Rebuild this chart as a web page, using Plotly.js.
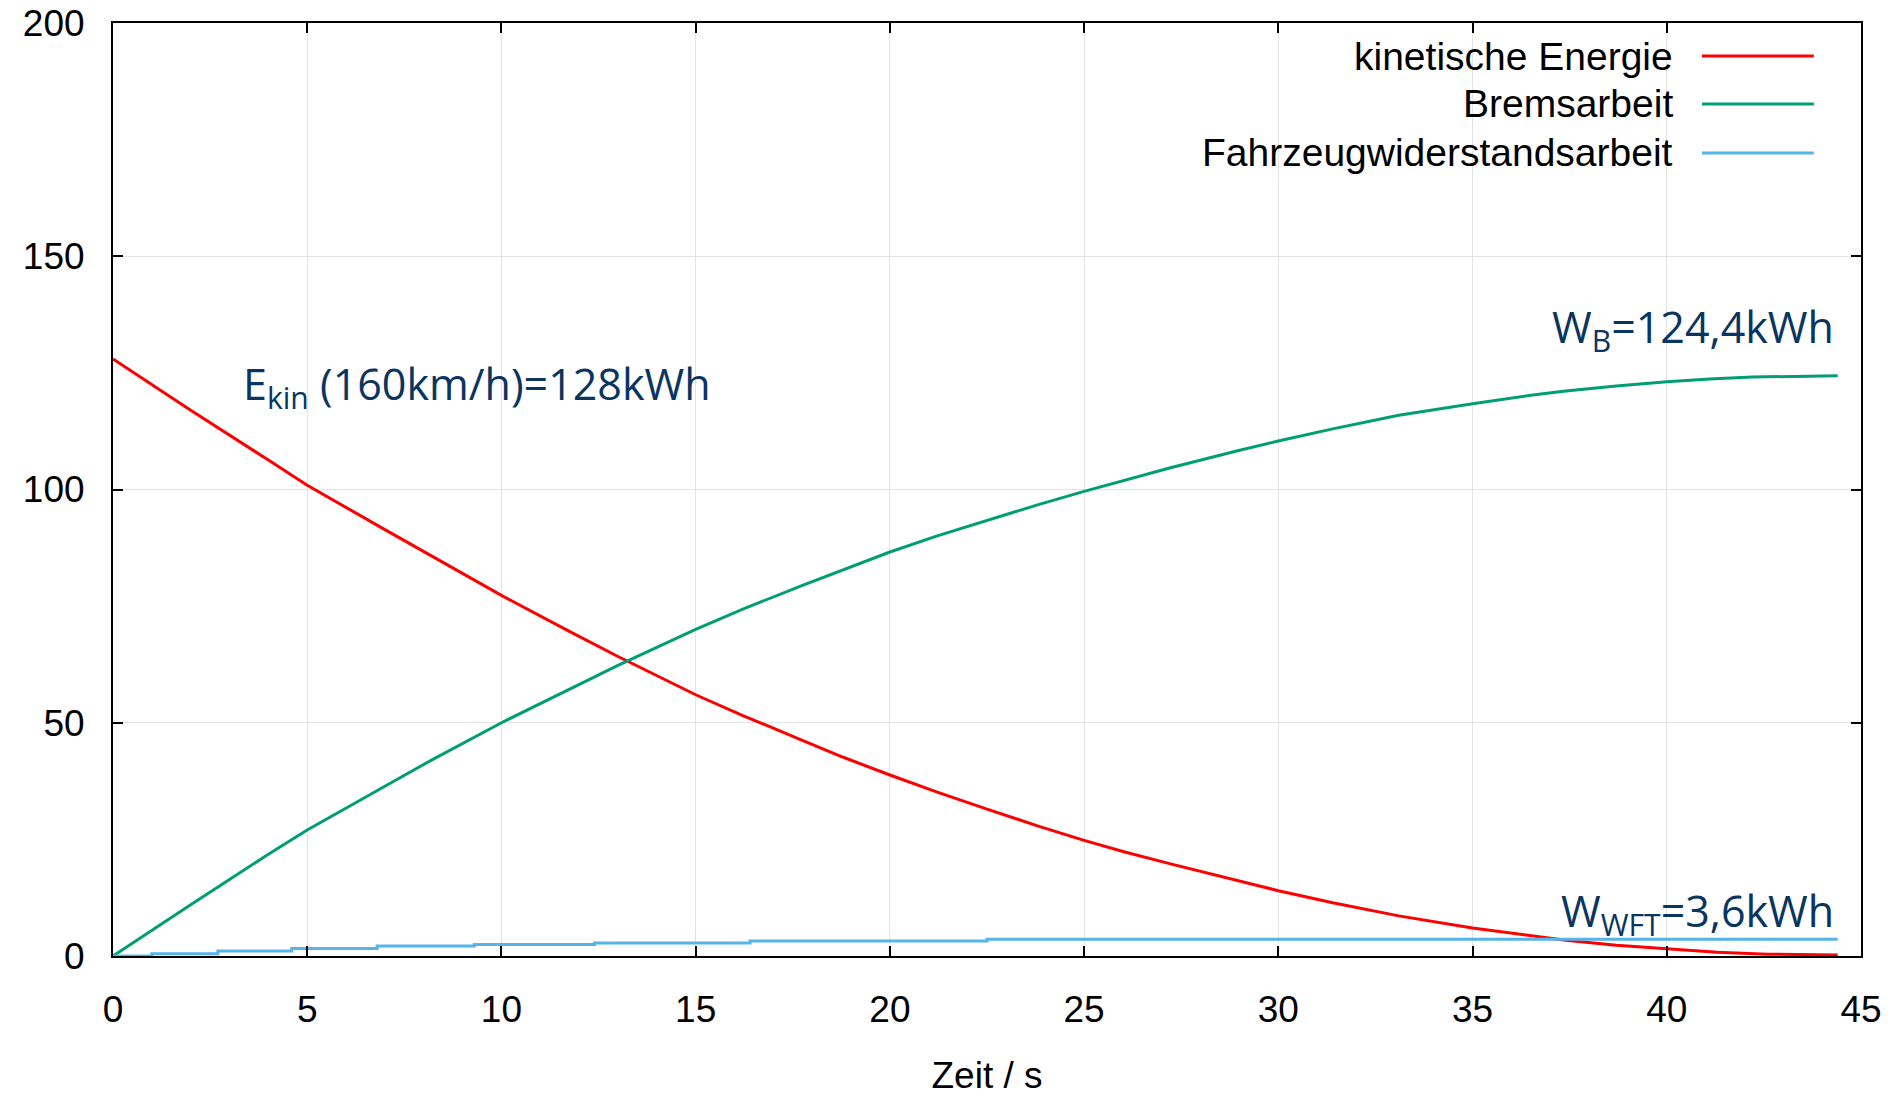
<!DOCTYPE html>
<html>
<head>
<meta charset="utf-8">
<script src="https://cdn.plot.ly/plotly-3.0.1.min.js"></script>
<style>html,body{margin:0;padding:0;background:#fff;}#chart{width:1903px;height:1096px;}</style>
</head>
<body>
<div id="chart"></div>
<script>
// ---- data ----
const seriesNames = ["kinetische Energie", "Bremsarbeit", "Fahrzeugwiderstandsarbeit"];
const seriesColors = ["#ff0000", "#009e73", "#56b4e9"];

const tKin = [0, 2, 4, 5, 7, 8.2, 10, 11.7, 13, 15, 16.2, 17.7, 18.8, 20, 21.2, 22.5, 23.8, 25, 26, 27.2, 28.9, 30, 31.4, 33.1, 35, 36.5, 37.4, 38.7, 40, 41.3, 42.6, 44.4];
const eKin = [128, 117.0, 106.3, 100.9, 91.4, 85.7, 77.3, 69.8, 64.2, 56.0, 51.6, 46.4, 42.6, 38.8, 35.2, 31.5, 27.9, 24.8, 22.4, 19.8, 16.2, 14.0, 11.4, 8.6, 6.0, 4.3, 3.4, 2.3, 1.5, 0.8, 0.4, 0.2];

const tBrems = [0, 2, 4, 5, 7, 8.2, 10, 11.7, 13, 15, 16.2, 17.7, 18.8, 20, 21.2, 22.5, 23.8, 25, 26, 27.2, 28.9, 30, 31.4, 33.1, 35, 36.5, 37.4, 38.7, 40, 41.1, 42.2, 44.4];
const wBrems = [0, 11.0, 21.8, 27.0, 36.4, 42.0, 50.0, 57.0, 62.3, 70.0, 74.3, 79.3, 82.8, 86.6, 90.0, 93.4, 96.7, 99.6, 101.9, 104.6, 108.2, 110.4, 113.0, 115.9, 118.4, 120.2, 121.1, 122.2, 123.1, 123.7, 124.1, 124.4];

const tWft = [0, 1.0, 2.7, 4.6, 6.8, 9.3, 12.4, 16.4, 22.5, 44.4];
const wWft = [0, 0.49, 1.06, 1.63, 2.12, 2.45, 2.78, 3.19, 3.6, 3.6];

const xTicks = [0, 5, 10, 15, 20, 25, 30, 35, 40, 45];
const yTicks = [0, 50, 100, 150, 200];

const labelTexts = ["E<sub>kin</sub> (160km/h)=128kWh", "W<sub>B</sub>=124,4kWh", "W<sub>WFT</sub>=3,6kWh"];
const xTitle = "Zeit / s";

// ---- chart ----
const tickFont = {family: "Liberation Sans, Arial, sans-serif", size: 37, color: "#000"};
const legendFont = {family: "Liberation Sans, Arial, sans-serif", size: 39, color: "#000"};
const annFont = {family: "Open Sans, sans-serif", size: 43, color: "#0b3561"};

const traces = [
  {x: tKin, y: eKin, mode: "lines", name: seriesNames[0], line: {color: seriesColors[0], width: 3}},
  {x: tBrems, y: wBrems, mode: "lines", name: seriesNames[1], line: {color: seriesColors[1], width: 3}},
  {x: tWft, y: wWft, mode: "lines", name: seriesNames[2], line: {color: seriesColors[2], width: 3, shape: "hv"}}
];

const axisCommon = {
  showline: true, linecolor: "#000", linewidth: 2, mirror: "ticks",
  ticks: "inside", ticklen: 10, tickwidth: 2, tickcolor: "#000",
  showgrid: true, gridcolor: "#e4e4e4", gridwidth: 1, zeroline: false,
  tickfont: tickFont, fixedrange: true
};

const legendY = [0.9646, 0.9132, 0.8607];
const shapes = [
  {type: "rect", xref: "paper", yref: "paper", x0: 0.6, x1: 0.998, y0: 0.835, y1: 0.998,
   fillcolor: "#ffffff", line: {width: 0}, layer: "between"}
];
const annotations = [];
seriesNames.forEach((n, i) => {
  shapes.push({type: "line", xref: "paper", yref: "paper", x0: 0.909, x1: 0.973, y0: legendY[i], y1: legendY[i],
               line: {color: seriesColors[i], width: 3}});
  annotations.push({xref: "paper", yref: "paper", x: 0.8936, y: legendY[i], xanchor: "right", yanchor: "middle",
                    text: n, showarrow: false, font: legendFont});
});
annotations.push({xref: "x", yref: "y", x: 3.3, y: 122.1, xanchor: "left", yanchor: "middle",
                  text: labelTexts[0], showarrow: false, font: annFont});
annotations.push({xref: "x", yref: "y", x: 44.35, y: 134.4, xanchor: "right", yanchor: "middle",
                  text: labelTexts[1], showarrow: false, font: annFont});
annotations.push({xref: "x", yref: "y", x: 44.35, y: 9.3, xanchor: "right", yanchor: "middle",
                  text: labelTexts[2], showarrow: false, font: annFont});

const layout = {
  width: 1903, height: 1096,
  margin: {l: 113, r: 42, t: 23, b: 140, pad: 0},
  paper_bgcolor: "#fff", plot_bgcolor: "#fff",
  showlegend: false,
  xaxis: Object.assign({}, axisCommon, {
    range: [0, 45], tickvals: xTicks, ticklabelstandoff: 20,
    title: {text: xTitle, font: tickFont, standoff: 34}
  }),
  yaxis: Object.assign({}, axisCommon, {
    range: [0, 200], tickvals: yTicks, ticklabelstandoff: 19
  }),
  shapes: shapes,
  annotations: annotations
};

Plotly.newPlot("chart", traces, layout, {displayModeBar: false, staticPlot: true});
</script>
</body>
</html>
